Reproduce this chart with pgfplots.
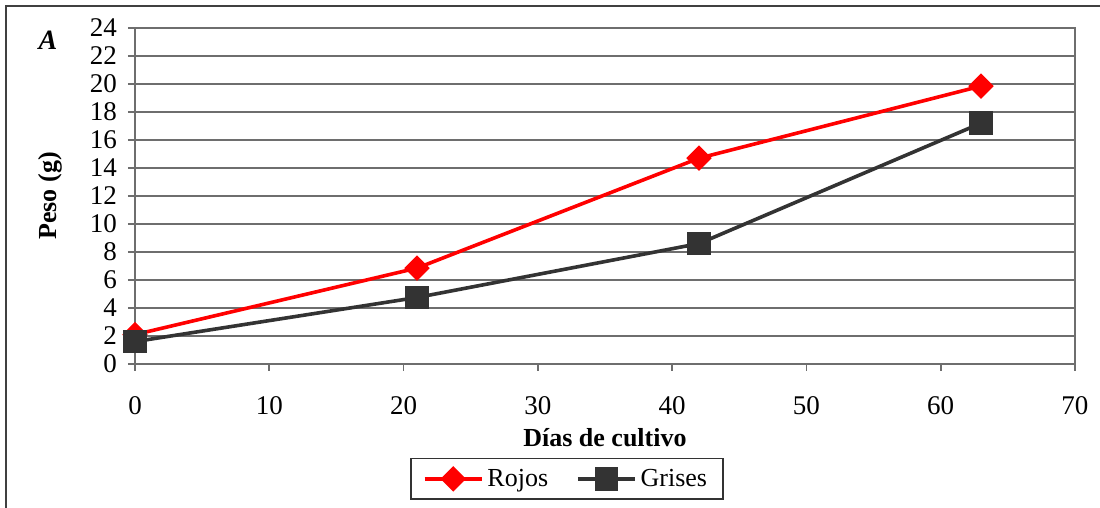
\documentclass[border=0pt]{standalone}
\usepackage{fontspec}
\setmainfont{Liberation Serif}
\usepackage{pgfplots}
\pgfplotsset{compat=1.18}
\definecolor{rojo}{RGB}{255,0,0}
\definecolor{gris}{RGB}{51,51,51}
\definecolor{gridc}{RGB}{110,110,110}
\begin{document}
\begin{tikzpicture}
\useasboundingbox (0,0) rectangle (550pt,254pt);
\draw[black!75, line width=1pt] (3pt,0) -- (3pt,251pt) -- (550pt,251pt);
\node[font=\fontsize{14}{14}\selectfont\bfseries\itshape] at (24pt,234pt) {A};
\begin{axis}[
  at={(67.5pt,72pt)}, anchor=south west,
  scale only axis, width=470pt, height=168pt,
  xmin=0, xmax=70, ymin=0, ymax=24,
  xtick={0,10,...,70}, ytick={0,2,...,24},
  xtick pos=bottom, ytick pos=left,
  tick align=outside, major tick length=3.5pt,
  xmajorgrids=false, ymajorgrids=true,
  grid style={draw=gridc, line width=0.6pt},
  axis line style={draw=gridc, line width=0.8pt},
  tick style={draw=gridc, line width=0.8pt},
  /pgf/number format/assume math mode=true,
  tick label style={font=\fontsize{13.5}{15}\selectfont},
  xticklabel style={yshift=-9pt},
  yticklabel style={xshift=-2pt},
  xlabel={Días de cultivo}, ylabel={Peso (g)},
  label style={font=\fontsize{13}{15}\selectfont\bfseries},
  xlabel style={at={(axis description cs:0.5,-0.22)}, anchor=center},
  ylabel style={at={(axis description cs:-0.09,0.5)}, anchor=center, rotate=0},
  legend columns=2,
  legend style={at={(axis description cs:0.4596,-0.342)}, anchor=center,
    draw=black!80, line width=0.6pt, font=\fontsize{13}{15}\selectfont,
    inner xsep=6pt, inner ysep=3pt,
    /tikz/every even column/.append style={column sep=12pt}},
  legend image code/.code={
    \draw[#1, mark repeat=2, mark phase=2] plot coordinates {(0cm,0cm) (0.5cm,0cm) (1.0cm,0cm)};},
]
\addplot[rojo, line width=1.8pt, mark=square*, mark size=3.6pt, mark options={rotate=45, solid}]
  coordinates {(0,2.1) (21,6.85) (42,14.7) (63,19.85)};
\addlegendentry{Rojos}
\addplot[gris, line width=1.8pt, mark=square*, mark size=5pt, mark options={solid}]
  coordinates {(0,1.6) (21,4.75) (42,8.6) (63,17.2)};
\addlegendentry{Grises}
\end{axis}
\end{tikzpicture}
\end{document}
